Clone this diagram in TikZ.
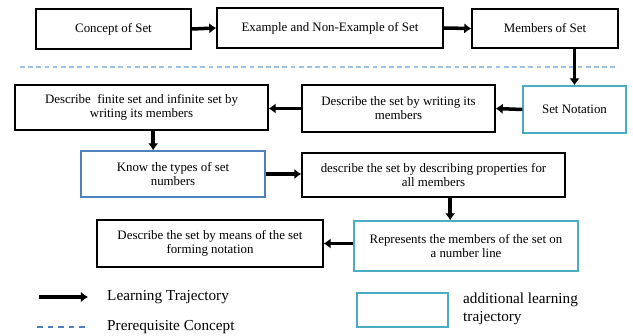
\documentclass[tikz,border=0pt]{standalone}
\usepackage{fontspec}
\setmainfont{Liberation Serif}
\usetikzlibrary{arrows.meta}
\definecolor{cyanbox}{HTML}{4BACC6}
\definecolor{bluebox}{HTML}{4F81BD}
\definecolor{dashblue}{HTML}{9DC3E6}

\begin{document}
\begin{tikzpicture}[x=0.03cm,y=-0.03cm,
  box/.style={draw=black,line width=1.2pt,align=center,inner sep=2pt,
    font=\fontsize{11}{12}\selectfont},
  addbox/.style={box,draw=cyanbox},
  traj/.style={line width=3pt,-{Latex[length=6pt,width=9pt]}},
  legend/.style={anchor=west,align=left,inner sep=0pt,font=\fontsize{13}{15}\selectfont}]
\useasboundingbox (0,0) rectangle (633,336);
% first row
\node[box,minimum width=4.65cm,minimum height=1.2cm] (concept) at (113.5,29) {Concept of Set};
\node[box,minimum width=6.78cm,minimum height=1.2cm] (example) at (330,28) {Example and Non-Example of Set};
\node[box,minimum width=4.38cm,minimum height=1.17cm] (members) at (545,28.5) {Members of Set};
\draw[traj] (concept.east) -- (example.west);
\draw[traj] (example.east) -- (members.west);
% prerequisite border
\coordinate (sepL) at (20,67);
\coordinate (sepR) at (618,67);
\draw[dashblue,line width=1.3pt,dash pattern=on 4pt off 3pt] (sepL) -- (sepR);
% second row
\node[addbox,minimum width=3.09cm,minimum height=1.41cm] (notation) at (574.5,109.5) {Set Notation};
\node[box,minimum width=5.79cm,minimum height=1.41cm] (writing) at (398.5,108.5) {Describe the set by writing its\\members};
\node[box,minimum width=7.59cm,minimum height=1.35cm] (finite) at (141.5,107.5) {Describe\ \ finite set and infinite set by\\writing its members};
\draw[traj] (members.south -| notation.north) -- (notation.north);
\draw[traj] (notation.west) -- (writing.east);
\draw[traj] (writing.west) -- (writing.west -| finite.east);
% third row
\node[box,draw=bluebox,minimum width=5.52cm,minimum height=1.38cm] (types) at (173,174) {Know the types of set\\numbers};
\node[box,minimum width=7.89cm,minimum height=1.32cm] (properties) at (433.5,175) {describe the set by describing properties for\\all members};
\draw[traj] ([xshift=0.35cm]finite.south) -- ([xshift=0.35cm]finite.south |- types.north);
\draw[traj] (types.east) -- (types.east -| properties.west);
% fourth row
\node[addbox,minimum width=6.72cm,minimum height=1.5cm] (numberline) at (466,246) {Represents the members of the set on\\a number line};
\node[box,minimum width=6.78cm,minimum height=1.41cm] (forming) at (210,243.5) {Describe the set by means of the set\\forming notation};
\draw[traj] ([xshift=0.5cm]properties.south) -- ([xshift=0.5cm]properties.south |- numberline.north);
\draw[traj] (numberline.west |- forming.east) -- (forming.east);
% legend
\coordinate (trajA) at (39,297);
\coordinate (trajB) at (88,297);
\draw[traj] (trajA) -- (trajB);
\node[legend] (trajtext) at (107,297) {Learning Trajectory};
\coordinate (preA) at (37,327);
\coordinate (preB) at (88,327);
\draw[bluebox,line width=1.2pt,dash pattern=on 5pt off 4pt] (preA) -- (preB);
\node[legend] (pretext) at (107,327) {Prerequisite Concept};
\node[addbox,minimum width=2.73cm,minimum height=1.02cm] (addkey) at (402.5,310) {};
\node[legend] (addtext) at (463,309) {additional learning\\trajectory};
\end{tikzpicture}
\end{document}
